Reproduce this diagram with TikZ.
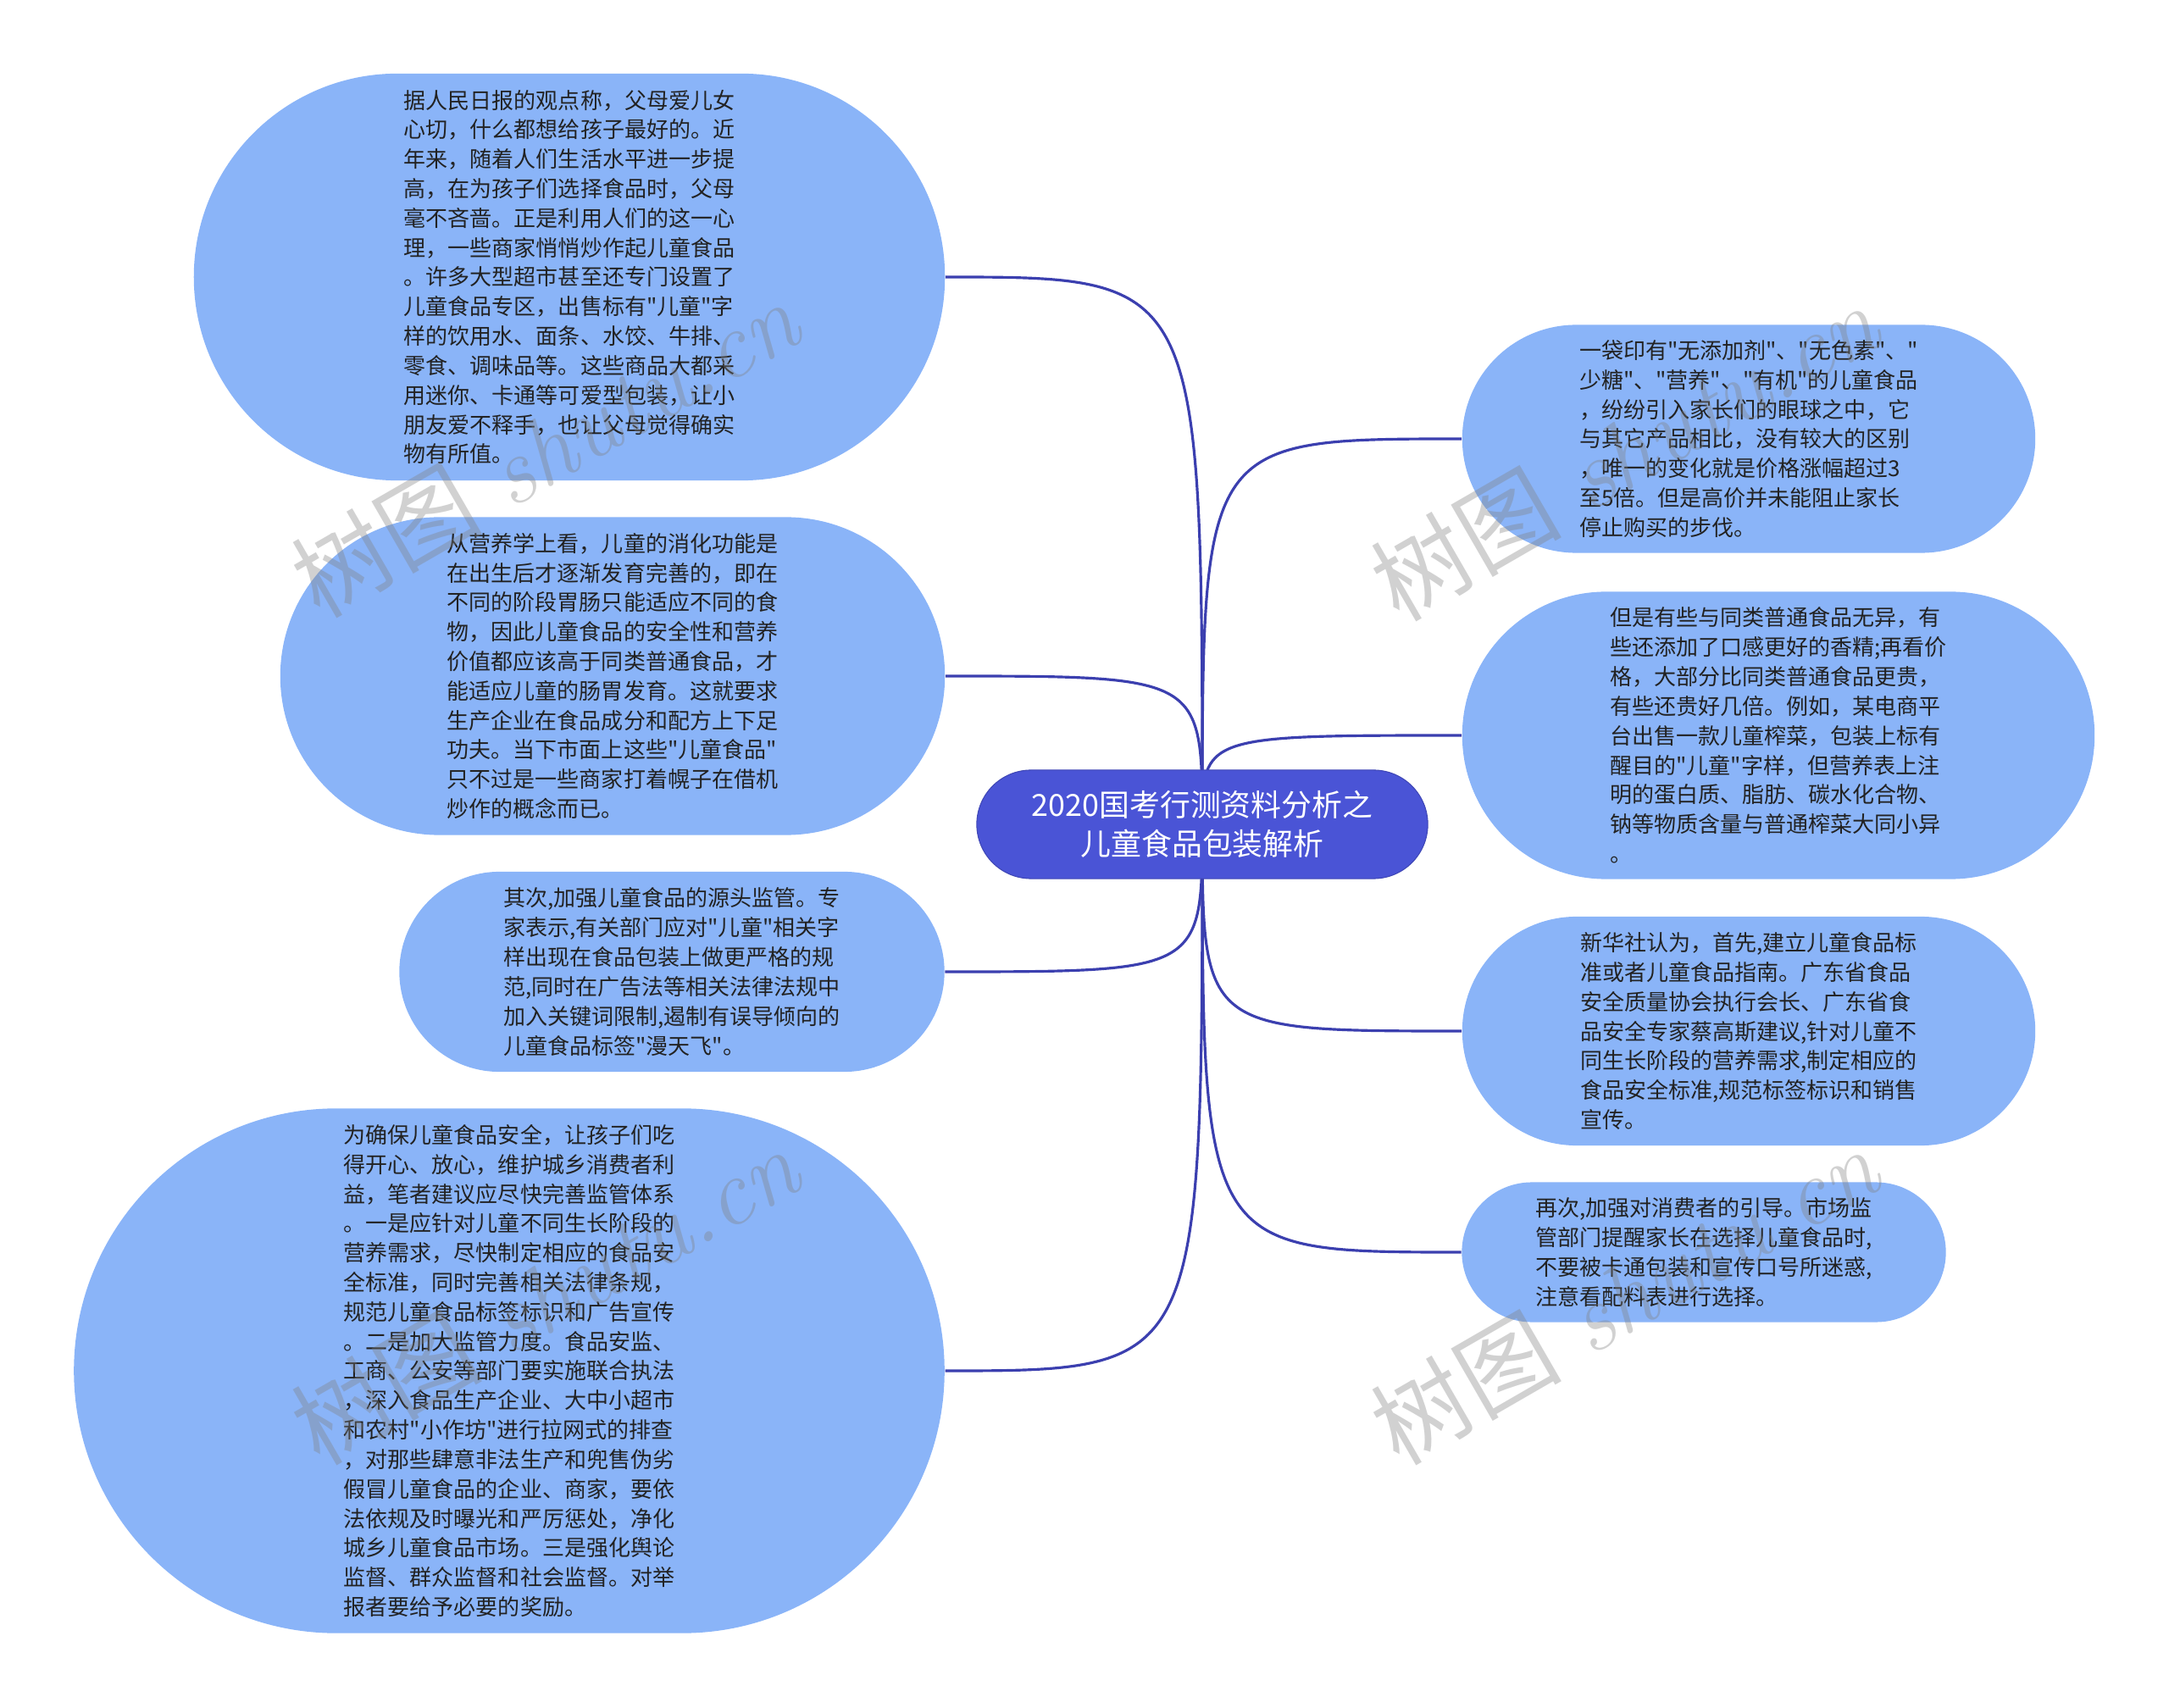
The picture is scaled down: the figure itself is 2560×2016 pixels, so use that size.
\documentclass[tikz,border=0pt]{standalone}
\usepackage{fontspec}
\newfontfamily\cjk{Noto Sans CJK SC}
\usetikzlibrary{backgrounds}
\definecolor{leafblue}{HTML}{8AB4F8}
\definecolor{rootblue}{HTML}{4A54D6}
\definecolor{linkblue}{HTML}{3B3FAF}
\definecolor{txt}{HTML}{222222}
\begin{document}
\begin{tikzpicture}[x=0.01cm,y=-0.01cm,
  leaf/.style={fill=leafblue, draw=none, inner sep=0pt, align=left, text=txt,
    font=\cjk\fontsize{7.4}{9.9}\selectfont},
  root/.style={fill=rootblue, draw=rootblue!85!black, line width=0.3pt, inner sep=0pt, align=center, text=white,
    font=\cjk\fontsize{10.2}{13}\selectfont, minimum width=5.32cm, minimum height=1.28cm, rounded corners=0.64cm},
  conn/.style={draw=linkblue, line width=0.9pt},
  wm/.style={text=gray, opacity=0.36, rotate=30, font=\fontsize{32}{32}\selectfont}]
\useasboundingbox (0,0) rectangle (2560,2016);

\node[root] (c) at (1419,973) {2020国考行测资料分析之\\儿童食品包装解析};

\node[leaf, minimum width=8.86cm, minimum height=4.80cm, rounded corners=2.40cm] (n1) at (672,327) {据人民日报的观点称，父母爱儿女\\心切，什么都想给孩子最好的。近\\年来，随着人们生活水平进一步提\\高，在为孩子们选择食品时，父母\\毫不吝啬。正是利用人们的这一心\\理，一些商家悄悄炒作起儿童食品\\。许多大型超市甚至还专门设置了\\儿童食品专区，出售标有"儿童"字\\样的饮用水、面条、水饺、牛排、\\零食、调味品等。这些商品大都采\\用迷你、卡通等可爱型包装，让小\\朋友爱不释手，也让父母觉得确实\\物有所值。};

\node[leaf, minimum width=7.84cm, minimum height=3.75cm, rounded corners=1.875cm] (n2) at (723,798) {从营养学上看，儿童的消化功能是\\在出生后才逐渐发育完善的，即在\\不同的阶段胃肠只能适应不同的食\\物，因此儿童食品的安全性和营养\\价值都应该高于同类普通食品，才\\能适应儿童的肠胃发育。这就要求\\生产企业在食品成分和配方上下足\\功夫。当下市面上这些"儿童食品"\\只不过是一些商家打着幌子在借机\\炒作的概念而已。};

\node[leaf, minimum width=6.43cm, minimum height=2.36cm, rounded corners=1.18cm] (n3) at (793,1147) {其次,加强儿童食品的源头监管。专\\家表示,有关部门应对"儿童"相关字\\样出现在食品包装上做更严格的规\\范,同时在广告法等相关法律法规中\\加入关键词限制,遏制有误导倾向的\\儿童食品标签"漫天飞"。};

\node[leaf, minimum width=10.27cm, minimum height=6.19cm, rounded corners=3.095cm] (n4) at (601,1618) {为确保儿童食品安全，让孩子们吃\\得开心、放心，维护城乡消费者利\\益，笔者建议应尽快完善监管体系\\。一是应针对儿童不同生长阶段的\\营养需求，尽快制定相应的食品安\\全标准，同时完善相关法律条规，\\规范儿童食品标签标识和广告宣传\\。二是加大监管力度。食品安监、\\工商、公安等部门要实施联合执法\\，深入食品生产企业、大中小超市\\和农村"小作坊"进行拉网式的排查\\，对那些肆意非法生产和兜售伪劣\\假冒儿童食品的企业、商家，要依\\法依规及时曝光和严厉惩处，净化\\城乡儿童食品市场。三是强化舆论\\监督、群众监督和社会监督。对举\\报者要给予必要的奖励。};

\node[leaf, minimum width=6.76cm, minimum height=2.69cm, rounded corners=1.345cm] (n5) at (2064,518) {一袋印有"无添加剂"、"无色素"、"\\少糖"、"营养"、"有机"的儿童食品\\，纷纷引入家长们的眼球之中，它\\与其它产品相比，没有较大的区别\\，唯一的变化就是价格涨幅超过3\\至5倍。但是高价并未能阻止家长\\停止购买的步伐。};

\node[leaf, minimum width=7.46cm, minimum height=3.39cm, rounded corners=1.695cm] (n6) at (2099,868) {但是有些与同类普通食品无异，有\\些还添加了口感更好的香精;再看价\\格，大部分比同类普通食品更贵，\\有些还贵好几倍。例如，某电商平\\台出售一款儿童榨菜，包装上标有\\醒目的"儿童"字样，但营养表上注\\明的蛋白质、脂肪、碳水化合物、\\钠等物质含量与普通榨菜大同小异\\。};

\node[leaf, minimum width=6.76cm, minimum height=2.70cm, rounded corners=1.35cm] (n7) at (2064,1217) {新华社认为，首先,建立儿童食品标\\准或者儿童食品指南。广东省食品\\安全质量协会执行会长、广东省食\\品安全专家蔡高斯建议,针对儿童不\\同生长阶段的营养需求,制定相应的\\食品安全标准,规范标签标识和销售\\宣传。};

\node[leaf, minimum width=5.71cm, minimum height=1.65cm, rounded corners=0.825cm] (n8) at (2011,1478) {再次,加强对消费者的引导。市场监\\管部门提醒家长在选择儿童食品时,\\不要被卡通包装和宣传口号所迷惑,\\注意看配料表进行选择。};

\begin{scope}[on background layer]
\foreach \n in {n1,n2,n3,n4}{
  \draw[conn] (c.center) .. controls (c.center |- \n.east) .. (\n.east);
}
\foreach \n in {n5,n6,n7,n8}{
  \draw[conn] (c.center) .. controls (c.center |- \n.west) .. (\n.west);
}
\end{scope}

\node[wm] (w1) at (644,528) {{\cjk 树图} \textit{shutu.cn}};
\node[wm] (w2) at (644,1528) {{\cjk 树图} \textit{shutu.cn}};
\node[wm] (w3) at (1918,532) {{\cjk 树图} \textit{shutu.cn}};
\node[wm] (w4) at (1918,1528) {{\cjk 树图} \textit{shutu.cn}};
\end{tikzpicture}
\end{document}
